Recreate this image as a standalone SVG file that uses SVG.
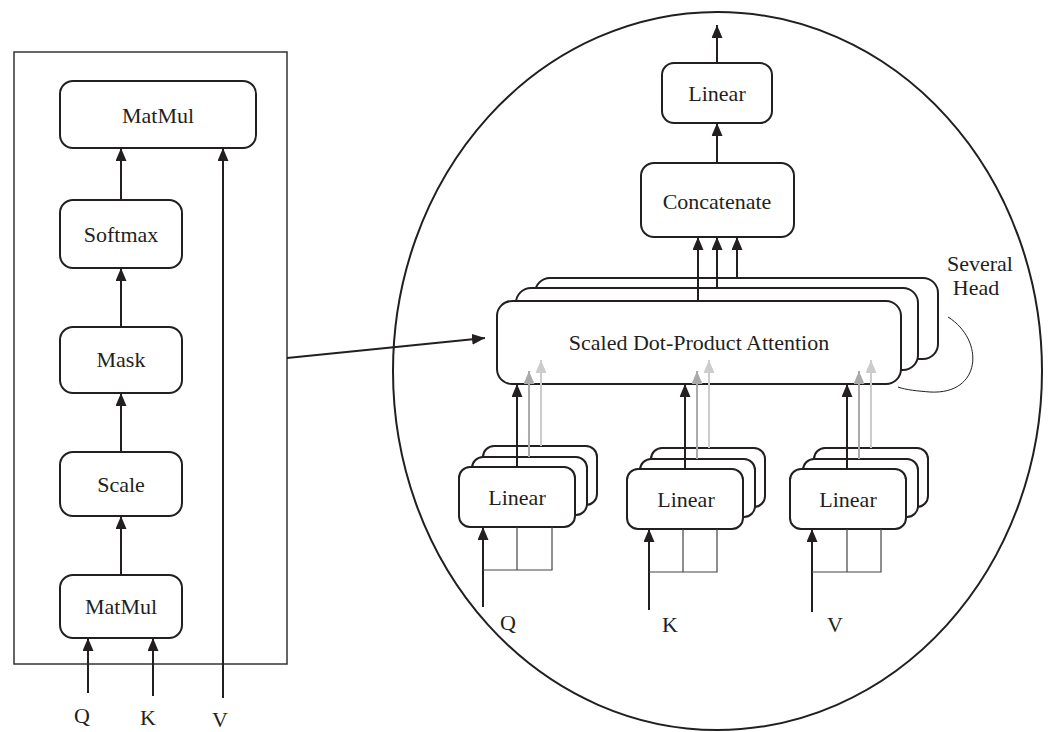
<svg xmlns="http://www.w3.org/2000/svg" width="1052" height="732" viewBox="0 0 1052 732">
<defs>
<style>
.box{fill:#fff;stroke:#231f20;stroke-width:2}
.t{font-family:"Liberation Serif","Times New Roman",serif;font-size:22px;fill:#231f20;text-anchor:middle}
.ln{stroke:#231f20;stroke-width:2;fill:none}
.thin{stroke:#444;stroke-width:1.2;fill:none}
.g1{stroke:#aaa;stroke-width:2;fill:none}
.g2{stroke:#ccc;stroke-width:2;fill:none}
</style>
<marker id="ab" viewBox="0 0 13 11" refX="13" refY="5.5" markerWidth="13" markerHeight="11" markerUnits="userSpaceOnUse" orient="auto"><path d="M0,0 L13,5.5 L0,11 z" fill="#231f20"/></marker>
<marker id="ag1" viewBox="0 0 13 11" refX="13" refY="5.5" markerWidth="13" markerHeight="11" markerUnits="userSpaceOnUse" orient="auto"><path d="M0,0 L13,5.5 L0,11 z" fill="#aaa"/></marker>
<marker id="ag2" viewBox="0 0 13 11" refX="13" refY="5.5" markerWidth="13" markerHeight="11" markerUnits="userSpaceOnUse" orient="auto"><path d="M0,0 L13,5.5 L0,11 z" fill="#ccc"/></marker>
</defs>
<rect width="1052" height="732" fill="#fff"/>

<g id="left-frame"><rect x="14" y="52" width="273" height="612" fill="none" stroke="#333" stroke-width="1.5"/></g>
<g id="circle"><ellipse cx="717.5" cy="371" rx="324.5" ry="359" fill="none" stroke="#231f20" stroke-width="2"/></g>

<g id="matmul-top"><rect class="box" x="60" y="81" width="196" height="67" rx="13"/><text class="t" x="158" y="123">MatMul</text></g>
<g id="softmax"><rect class="box" x="60" y="200" width="122" height="68" rx="13"/><text class="t" x="121" y="242">Softmax</text></g>
<g id="mask"><rect class="box" x="60" y="327" width="122" height="66" rx="13"/><text class="t" x="121" y="367">Mask</text></g>
<g id="scale"><rect class="box" x="60" y="452" width="122" height="64" rx="13"/><text class="t" x="121" y="492">Scale</text></g>
<g id="matmul-bottom"><rect class="box" x="60" y="575" width="122" height="63" rx="13"/><text class="t" x="121" y="614">MatMul</text></g>
<g id="left-labels">
<text class="t" x="82" y="723">Q</text><text class="t" x="148" y="725">K</text><text class="t" x="220" y="727">V</text>
</g>

<g id="linear-top"><rect class="box" x="662" y="63" width="110" height="60" rx="12"/><text class="t" x="717" y="101">Linear</text></g>
<g id="concatenate"><rect class="box" x="641" y="163" width="153" height="74" rx="13"/><text class="t" x="717" y="209">Concatenate</text></g>

<g id="sdpa">
<rect class="box" x="535" y="278" width="403" height="81" rx="15"/>
<rect class="box" x="516" y="288" width="402" height="82" rx="15"/>
<rect class="box" x="497" y="301" width="404" height="83" rx="15"/>
<text class="t" x="699" y="350">Scaled Dot-Product Attention</text>
</g>
<g id="several-head">
<text class="t" x="980" y="271">Several</text><text class="t" x="976" y="295">Head</text>
<path d="M948,317 C985,340 982,395 930,392 C918,391 906,390 898,387" fill="none" stroke="#231f20" stroke-width="1"/>
</g>

<g id="linear-q">
<rect class="box" x="483" y="446" width="114" height="59" rx="11"/>
<rect class="box" x="472" y="457" width="115" height="58" rx="11"/>
<rect class="box" x="459" y="467" width="116" height="60" rx="11"/>
<text class="t" x="517" y="505">Linear</text>
</g>
<g id="linear-k">
<rect class="box" x="651" y="448" width="114" height="59" rx="11"/>
<rect class="box" x="640" y="459" width="115" height="58" rx="11"/>
<rect class="box" x="627" y="469" width="116" height="60" rx="11"/>
<text class="t" x="686" y="507">Linear</text>
</g>
<g id="linear-v">
<rect class="box" x="814" y="448" width="114" height="59" rx="11"/>
<rect class="box" x="803" y="459" width="115" height="58" rx="11"/>
<rect class="box" x="790" y="469" width="116" height="60" rx="11"/>
<text class="t" x="848" y="507">Linear</text>
</g>
<g id="right-labels">
<text class="t" x="508" y="630">Q</text><text class="t" x="670" y="632">K</text><text class="t" x="835" y="632">V</text>
</g>

<g id="connectors">
<line class="ln" x1="121" y1="200" x2="121" y2="148" marker-end="url(#ab)"/>
<line class="ln" x1="121" y1="327" x2="121" y2="268" marker-end="url(#ab)"/>
<line class="ln" x1="121" y1="452" x2="121" y2="393" marker-end="url(#ab)"/>
<line class="ln" x1="121" y1="575" x2="121" y2="516" marker-end="url(#ab)"/>
<line class="ln" x1="223" y1="698" x2="223" y2="148" marker-end="url(#ab)"/>
<line class="ln" x1="88" y1="693" x2="88" y2="638" marker-end="url(#ab)"/>
<line class="ln" x1="153" y1="696" x2="153" y2="638" marker-end="url(#ab)"/>

<line class="ln" x1="287" y1="358" x2="485" y2="338" marker-end="url(#ab)"/>

<line class="ln" x1="717" y1="63" x2="717" y2="25" marker-end="url(#ab)"/>
<line class="ln" x1="717" y1="163" x2="717" y2="123" marker-end="url(#ab)"/>
<line class="ln" x1="698" y1="301" x2="698" y2="237" marker-end="url(#ab)"/>
<line class="ln" x1="717" y1="288" x2="717" y2="237" marker-end="url(#ab)"/>
<line class="ln" x1="737" y1="278" x2="737" y2="237" marker-end="url(#ab)"/>

<line class="ln" x1="517" y1="467" x2="517" y2="384" marker-end="url(#ab)"/>
<line class="g1" x1="529" y1="457" x2="529" y2="371" marker-end="url(#ag1)"/>
<line class="g2" x1="541" y1="446" x2="541" y2="360" marker-end="url(#ag2)"/>
<line class="ln" x1="685" y1="469" x2="685" y2="384" marker-end="url(#ab)"/>
<line class="g1" x1="697" y1="459" x2="697" y2="371" marker-end="url(#ag1)"/>
<line class="g2" x1="709" y1="448" x2="709" y2="360" marker-end="url(#ag2)"/>
<line class="ln" x1="847" y1="469" x2="847" y2="384" marker-end="url(#ab)"/>
<line class="g1" x1="859" y1="459" x2="859" y2="371" marker-end="url(#ag1)"/>
<line class="g2" x1="871" y1="448" x2="871" y2="360" marker-end="url(#ag2)"/>

<line class="ln" x1="483" y1="607" x2="483" y2="527" marker-end="url(#ab)"/>
<path class="thin" d="M483,570 H552 V527 M517,570 V527"/>
<line class="ln" x1="649" y1="610" x2="649" y2="529" marker-end="url(#ab)"/>
<path class="thin" d="M649,572 H717 V529 M683,572 V529"/>
<line class="ln" x1="812" y1="612" x2="812" y2="529" marker-end="url(#ab)"/>
<path class="thin" d="M812,572 H881 V529 M847,572 V529"/>
</g>
</svg>
